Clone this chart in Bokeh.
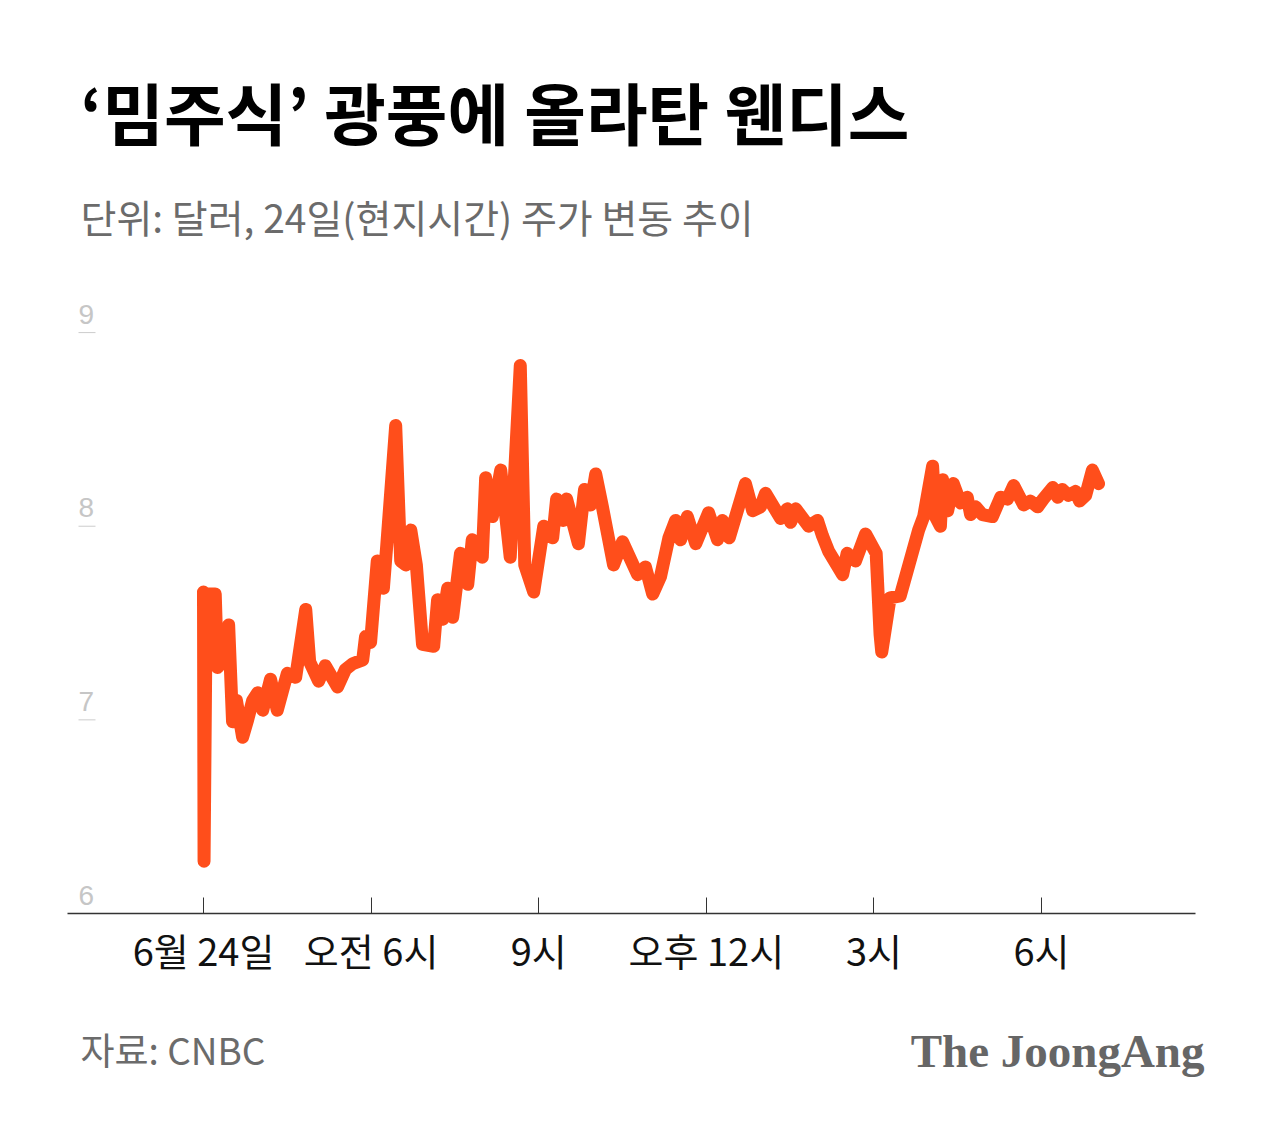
from bokeh.plotting import figure
from bokeh.layouts import column
from bokeh.models import Range1d, FixedTicker, Label, LabelSet, ColumnDataSource
from bokeh.core.properties import value
from bokeh.embed import file_html
from bokeh.resources import INLINE

# ---- data (hours of 24 June, local time; price in USD) ----
hours = [3.00, 3.01, 3.05, 3.21, 3.25, 3.34, 3.45, 3.52, 3.59, 3.70, 3.79, 3.88, 3.97, 4.06,
         4.20, 4.32, 4.50, 4.65, 4.83, 4.90, 5.06, 5.18, 5.40, 5.54, 5.67, 5.85, 5.90, 5.99,
         6.11, 6.22, 6.28, 6.44, 6.53, 6.62, 6.71, 6.81, 6.92, 7.12, 7.19, 7.28, 7.37, 7.46,
         7.60, 7.73, 7.81, 7.92, 7.99, 8.05, 8.17, 8.32, 8.41, 8.49, 8.67, 8.75, 8.91, 9.09,
         9.25, 9.32, 9.44, 9.50, 9.71, 9.82, 9.93, 10.02, 10.14, 10.34, 10.50, 10.77, 10.91,
         11.04, 11.18, 11.33, 11.45, 11.54, 11.66, 11.81, 12.04, 12.20, 12.29, 12.41, 12.70,
         12.83, 12.97, 13.06, 13.33, 13.45, 13.51, 13.60, 13.83, 13.99, 14.08, 14.19, 14.44,
         14.52, 14.67, 14.85, 15.04, 15.11, 15.14, 15.29, 15.47, 15.80, 15.89, 16.05, 16.10,
         16.19, 16.23, 16.32, 16.42, 16.55, 16.67, 16.73, 16.82, 16.94, 17.12, 17.27, 17.39,
         17.50, 17.68, 17.80, 17.93, 18.03, 18.20, 18.29, 18.37, 18.48, 18.61, 18.68, 18.79,
         18.91, 19.02]
price = [7.66, 6.27, 7.65, 7.65, 7.27, 7.30, 7.49, 6.99, 7.10, 6.91, 7.00, 7.10, 7.14, 7.05,
         7.21, 7.05, 7.24, 7.22, 7.57, 7.30, 7.20, 7.28, 7.17, 7.26, 7.29, 7.31, 7.43, 7.40,
         7.82, 7.68, 7.90, 8.52, 7.82, 7.80, 7.98, 7.80, 7.39, 7.38, 7.62, 7.52, 7.68, 7.53,
         7.86, 7.70, 7.93, 7.86, 7.84, 8.25, 8.05, 8.29, 8.05, 7.84, 8.83, 7.80, 7.66, 8.00,
         7.94, 8.14, 8.03, 8.14, 7.91, 8.19, 8.11, 8.27, 8.10, 7.80, 7.92, 7.75, 7.79,
         7.65, 7.74, 7.94, 8.03, 7.93, 8.05, 7.91, 8.07, 7.93, 8.03, 7.94, 8.22,
         8.08, 8.10, 8.17, 8.04, 8.09, 8.02, 8.09, 8.00, 8.03, 7.95, 7.87, 7.75,
         7.86, 7.82, 7.96, 7.86, 7.44, 7.35, 7.63, 7.64, 7.98, 8.05, 8.31, 8.05,
         8.00, 8.24, 8.08, 8.22, 8.12, 8.15, 8.06, 8.10, 8.06, 8.05, 8.15, 8.14,
         8.21, 8.11, 8.13, 8.10, 8.14, 8.20, 8.15, 8.19, 8.16, 8.18, 8.13, 8.16,
         8.29, 8.22]

tick_hours = [3, 6, 9, 12, 15, 18]
tick_labels = ["6월 24일", "오전 6시", "9시", "오후 12시", "3시", "6시"]
y_ticks = [6, 7, 8, 9]
y_stub_ticks = [7, 8, 9]

TITLE = "‘밈주식’ 광풍에 올라탄 웬디스"
SUBTITLE = "단위:  달러, 24일(현지시간) 주가 변동 추이"
SOURCE = "자료: CNBC"
BRAND = "The JoongAng"

# ---- layout (pixels) ----
W = 1280
HEAD_H, MAIN_H, FOOT_H = 274, 736, 113
FRAME_H = 639
PX_PER_HOUR = 55.87        # horizontal scale
FIRST_TICK_PX = 203        # where the first tick sits on the page
AXIS_LEFT_PX, AXIS_RIGHT_PX = 67, 1195
X0 = tick_hours[0] - FIRST_TICK_PX / PX_PER_HOUR
X1 = X0 + W / PX_PER_HOUR
Y0, Y1 = 6.0, 9.3
KR = "Noto Sans CJK KR"


def px_to_hour(px):
    return X0 + px / PX_PER_HOUR


def blank(h):
    f = figure(width=W, height=h, x_range=Range1d(0, W), y_range=Range1d(h, 0),
               output_backend="svg", toolbar_location=None,
               x_axis_location=None, y_axis_location=None,
               min_border=0, outline_line_color=None,
               background_fill_color="white", border_fill_color="white")
    f.grid.visible = False
    return f


# header
head = blank(HEAD_H)
head.add_layout(Label(x=80, y=110, text=TITLE, text_font=KR, text_font_style="bold",
                      text_font_size="67px", text_color="#000000",
                      text_baseline="middle"))
head.add_layout(Label(x=80, y=215, text=SUBTITLE, text_font=KR, text_font_size="39px",
                      text_color="#6b6b6b", text_baseline="middle"))

# main chart
p = figure(width=W, height=MAIN_H, x_range=Range1d(X0, X1), y_range=Range1d(Y0, Y1),
           output_backend="svg", toolbar_location=None, y_axis_location=None,
           min_border_left=0, min_border_right=0,
           min_border_top=0, min_border_bottom=MAIN_H - FRAME_H,
           outline_line_color=None, background_fill_color="white",
           border_fill_color="white")
p.grid.visible = False

ax = p.xaxis[0]
ax.bounds = (px_to_hour(AXIS_LEFT_PX), px_to_hour(AXIS_RIGHT_PX))
ax.ticker = FixedTicker(ticks=tick_hours)
ax.major_label_overrides = {h: t for h, t in zip(tick_hours, tick_labels)}
ax.axis_line_color = "#333333"
ax.axis_line_width = 1.5
ax.major_tick_line_color = "#333333"
ax.major_tick_line_width = 1
ax.major_tick_in = 16
ax.major_tick_out = 0
ax.minor_tick_line_color = None
ax.major_label_standoff = 8
ax.major_label_text_font = KR
ax.major_label_text_font_size = "38px"
ax.major_label_text_color = "#111111"

stub_x0 = px_to_hour(78)
stub_x1 = px_to_hour(95)
p.segment(x0=[stub_x0] * len(y_stub_ticks), y0=y_stub_ticks,
          x1=[stub_x1] * len(y_stub_ticks), y1=y_stub_ticks,
          line_color="#cccccc", line_width=1)
ysrc = ColumnDataSource(dict(x=[78] * len(y_ticks), y=y_ticks, t=[str(v) for v in y_ticks]))
p.add_layout(LabelSet(x="x", y="y", text="t", source=ysrc, x_units="screen",
                      y_offset=9, text_baseline="alphabetic", text_align="left",
                      text_font=value("Liberation Sans"), text_font_size=value("28px"),
                      text_color="#c6c6c6"))

p.line(hours, price, line_color="#FF4E1B", line_width=13,
       line_join="round", line_cap="round")

# footer
foot = blank(FOOT_H)
foot.add_layout(Label(x=80, y=38, text=SOURCE, text_font=KR, text_font_size="37px",
                      text_color="#6b6b6b", text_baseline="middle"))
foot.add_layout(Label(x=1204, y=40, text=BRAND, text_font="Liberation Serif",
                      text_font_style="bold", text_font_size="47px", text_align="right",
                      text_color="#666666", text_baseline="middle"))

layout = column(head, p, foot, spacing=0)
open("out.html", "w").write(file_html(layout, INLINE))
